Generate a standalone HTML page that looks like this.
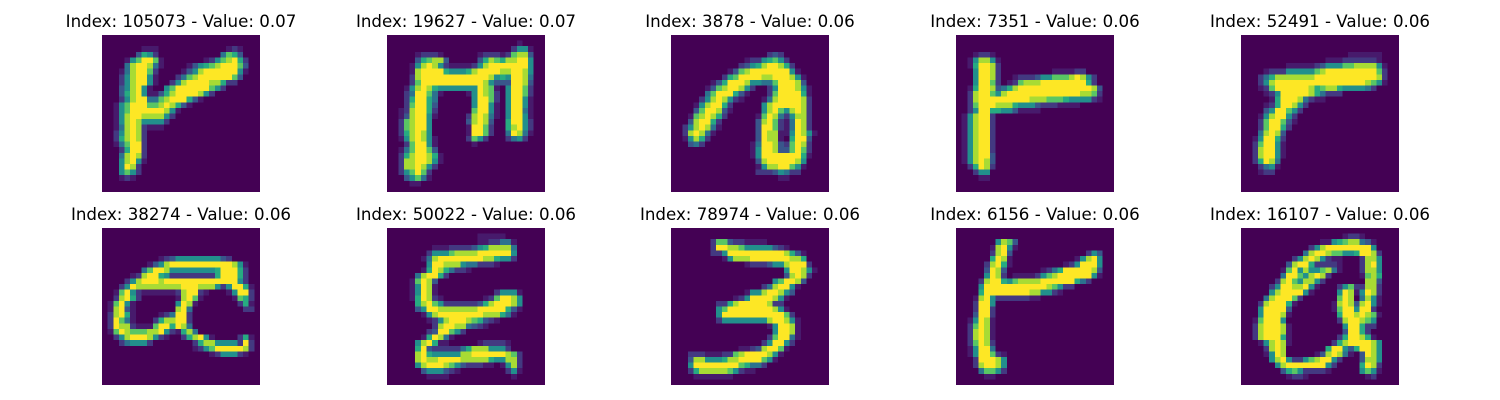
<!DOCTYPE html>
<html lang="en">
<head>
<meta charset="utf-8">
<title>Top activations</title>
<style>
html,body{margin:0;padding:0;background:#fff;width:1500px;height:400px;overflow:hidden}
svg{display:block}
text{font-family:"DejaVu Sans",sans-serif;font-size:16.67px;fill:#000;text-anchor:middle}
</style>
</head>
<body>
<svg id="figure" width="1500" height="400" viewBox="0 0 1500 400" xmlns="http://www.w3.org/2000/svg"></svg>
<script>
const titleIndexes = [105073, 19627, 3878, 7351, 52491, 38274, 50022, 78974, 6156, 16107];
const titleValues = [0.07, 0.07, 0.06, 0.06, 0.06, 0.06, 0.06, 0.06, 0.06, 0.06];

const image0 = [[],[],
[0,0,0,0,0,0,0,1,1,1,0,0,0,0,0,0,0,0,0,0,0,0,1,2,1],
[0,0,0,0,0,0,3,6,5,2,0,0,0,0,0,0,0,0,0,0,0,4,7,6,3],
[0,0,0,0,1,5,7,9,9,7,1,0,0,0,0,0,0,0,1,2,5,7,8,9,6,2],
[0,0,0,0,4,8,9,9,8,4,1,0,0,0,0,1,3,5,6,7,8,9,9,9,7,3],
[0,0,0,1,4,8,9,9,7,2,0,0,0,0,1,3,5,8,9,9,9,9,9,9,5,1],
[0,0,0,2,5,8,9,9,5,1,0,0,0,2,4,7,8,9,9,9,9,9,9,7,3],
[0,0,0,2,5,8,9,9,5,1,0,0,2,5,8,9,9,9,9,8,8,6,2,2],
[0,0,0,3,5,8,9,5,1,0,0,5,7,9,9,9,9,9,9,7,5,2],
[0,0,0,3,6,8,9,5,1,1,3,6,8,9,9,9,9,8,5,2],
[0,0,0,2,5,8,9,9,4,4,7,8,9,9,9,6,3,1],
[0,0,1,5,7,9,9,9,7,7,8,9,8,6,3,1],
[0,0,1,5,7,9,9,9,9,9,9,8,5,1],
[0,0,1,5,8,9,9,8,8,8,8,5,2],
[0,0,1,5,8,9,8,5,5,5,5,2],
[0,0,1,4,8,9,8,2,1,1,1],
[0,0,2,5,8,9,8,2],
[0,0,2,6,8,9,8,2],
[0,0,1,4,7,9,9,2],
[0,0,0,2,6,9,9,2],
[0,0,0,4,8,9,8,2],
[0,0,0,5,8,9,5,1],
[0,0,0,5,9,8,2],
[0,0,0,5,7,5,2],
[0,0,0,1,2,1],
[],[]];

const image1 = [[],[0,0,0,0,0,0,0,0,0,0,0,0,0,0,0,0,0,0,0,0,0,0,0,1],
[0,0,0,0,0,0,0,0,0,0,0,0,0,0,0,0,0,0,0,0,0,0,2,5,5,1],
[0,0,0,0,0,1,2,2,2,1,0,0,0,0,0,0,1,2,2,2,1,2,7,8,8,3],
[0,0,0,0,0,3,6,7,8,8,3,0,0,0,0,0,3,6,8,7,6,8,8,9,9,5],
[0,0,0,0,1,5,8,9,8,5,2,1,1,1,1,2,5,8,9,9,9,9,9,9,9,5],
[0,0,0,0,1,8,9,9,9,9,6,5,5,5,6,8,9,9,9,9,8,8,9,9,8,5],
[0,0,0,0,2,8,9,9,9,9,9,9,9,9,9,9,9,9,8,5,6,5,9,9,8,4],
[0,0,0,0,2,7,9,9,9,9,9,9,9,9,9,9,9,8,5,3,3,3,9,9,8,3],
[0,0,0,1,5,8,9,8,6,5,5,5,5,5,5,5,9,8,7,1,0,5,9,9,7,2],
[0,0,0,2,4,9,9,7,4,1,0,0,0,0,1,5,9,8,7,2,0,5,9,9,7,2],
[0,0,0,2,6,9,9,6,4,0,0,0,0,0,0,5,9,9,7,2,0,5,9,9,5,1],
[0,0,0,2,7,9,9,6,3,0,0,0,0,0,0,5,9,9,5,1,0,5,9,9,5,1],
[0,0,1,2,8,9,9,6,2,0,0,0,0,0,0,7,9,9,5,1,0,5,9,9,4,1],
[0,0,1,3,8,9,9,5,1,0,0,0,0,0,2,8,9,8,4,1,0,5,9,9,5,1],
[0,0,2,7,8,9,9,5,0,0,0,0,0,0,3,8,9,8,3,0,0,6,9,9,5,2],
[0,0,2,7,8,9,9,5,0,0,0,0,0,0,1,9,9,7,2,0,0,6,8,9,5,2],
[0,0,2,6,8,9,8,5,0,0,0,0,0,0,1,9,9,7,2,0,0,4,9,8,4,1],
[0,0,1,5,8,9,8,5,1,0,0,0,0,0,2,7,5,2,0,0,0,2,4,5,2],
[0,0,0,2,7,9,9,5,1,0,0,0,0,0,0,1],
[0,0,1,4,7,9,9,7,3],
[0,0,2,6,8,9,9,8,6,1],
[0,0,2,8,8,9,9,8,5,1],
[0,0,2,8,8,9,8,5,2],
[0,0,2,5,7,9,7,2],
[0,0,0,3,5,7,4,1],
[0,0,0,0,1,1],[]];

const image2 = [[],[],[],
[0,0,0,0,0,0,0,0,0,0,0,0,0,0,0,0,0,2,3,2],
[0,0,0,0,0,0,0,0,0,0,0,0,0,1,2,2,5,6,7,5,2],
[0,0,0,0,0,0,0,0,0,0,0,0,2,3,5,6,8,9,9,8,6,2],
[0,0,0,0,0,0,0,0,0,0,1,3,7,8,9,9,9,9,9,9,9,5,1],
[0,0,0,0,0,0,0,0,0,2,6,7,9,9,9,9,8,8,9,9,9,8,5,1],
[0,0,0,0,0,0,0,1,3,6,9,9,9,8,5,5,4,4,7,9,9,9,8,3],
[0,0,0,0,0,0,1,3,7,8,9,9,8,5,2,0,0,2,5,9,9,9,8,5,1],
[0,0,0,0,0,0,4,7,9,9,9,6,3,1,0,0,0,2,7,9,9,9,9,6,1],
[0,0,0,0,0,2,5,8,9,8,5,2,1,0,0,0,1,4,8,9,9,9,9,8,2],
[0,0,0,0,1,5,8,9,9,6,2,0,0,0,0,0,5,8,9,9,9,9,9,8,2],
[0,0,0,0,3,7,9,9,8,3,1,0,0,0,0,0,5,8,9,7,5,8,9,8,2],
[0,0,0,1,7,8,9,8,6,2,0,0,0,0,0,1,7,9,8,4,2,5,8,8,2],
[0,0,0,3,8,9,9,6,2,0,0,0,0,0,0,3,8,9,7,2,1,4,9,8,2],
[0,0,2,5,8,9,8,4,1,0,0,0,0,0,0,3,9,9,7,2,1,4,9,8,2],
[0,0,2,8,9,8,4,1,0,0,0,0,0,0,0,3,9,8,8,1,1,5,9,8,5,1],
[0,0,1,5,8,6,2,0,0,0,0,0,0,0,0,3,9,8,8,1,0,6,9,9,3],
[0,0,0,3,4,2,0,0,0,0,0,0,0,0,1,4,9,9,8,3,2,7,9,8,2],
[0,0,0,0,0,0,0,0,0,0,0,0,0,0,1,5,9,9,8,3,3,7,9,7,2],
[0,0,0,0,0,0,0,0,0,0,0,0,0,0,1,5,9,9,9,9,9,9,9,6,1],
[0,0,0,0,0,0,0,0,0,0,0,0,0,0,0,3,8,9,9,9,9,9,8,5],
[0,0,0,0,0,0,0,0,0,0,0,0,0,0,0,1,5,8,8,9,9,7,5,1],
[0,0,0,0,0,0,0,0,0,0,0,0,0,0,0,2,2,2,3,5,4,2,2],
[0,0,0,0,0,0,0,0,0,0,0,0,0,0,0,0,0,0,0,1,1],[],[]];

const image3 = [[],[],[],
[0,0,0,1,2,2,1],
[0,0,1,5,8,8,5,1],
[0,0,1,6,9,9,8,2],
[0,0,0,5,9,9,8,2,0,0,0,0,0,0,0,0,0,1,1,1,1,2,2],
[0,0,0,5,9,9,8,2,0,0,1,2,2,2,3,5,5,7,7,7,8,9,8,5,2],
[0,0,0,5,9,9,7,2,0,1,2,7,8,8,8,9,9,9,9,9,9,9,9,6,2],
[0,0,1,6,9,9,8,3,4,6,8,9,9,9,9,9,9,9,9,9,9,9,9,9,8,3],
[0,0,2,8,9,9,7,5,8,9,9,9,9,9,9,9,9,9,9,9,9,9,8,8,7,2],
[0,0,2,8,9,9,9,9,9,9,9,9,9,8,8,8,7,7,7,6,5,5,5,5,2,1],
[0,0,2,7,9,9,9,8,8,8,6,5,5,5,3,2,2,2,1,1,1,1],
[0,0,2,5,9,9,6,6,5,5,3,1,1,1,1],
[0,1,5,8,9,9,2],
[0,1,5,8,9,9,2],
[0,1,5,8,9,9,2],
[0,1,5,8,9,9,2],
[0,1,5,8,9,9,2],
[0,1,5,8,9,9,2],
[0,1,5,8,9,9,2],
[0,1,5,8,9,9,3],
[0,1,5,8,9,8,3],
[0,0,2,6,9,8,2],
[0,0,0,2,5,5],
[0,0,0,0,1,1],[],[]];

const image4 = [[],[],[],
[0,0,0,0,0,0,0,0,0,0,0,0,0,0,0,0,0,0,0,1,1,1,1,1,1],
[0,0,0,0,0,0,0,0,0,0,0,0,0,0,0,1,1,1,2,2,2,2,2,2,1],
[0,0,0,0,0,0,0,0,1,1,1,1,1,2,3,5,5,5,7,7,8,8,8,8,5,1],
[0,0,0,0,1,2,2,2,5,5,5,5,5,7,8,9,9,9,9,9,9,9,9,9,7,2],
[0,0,0,2,4,6,8,8,8,8,8,8,8,9,9,9,9,9,9,9,9,9,9,9,8,2],
[0,0,0,2,5,8,9,9,9,9,9,9,9,9,9,9,9,9,9,9,9,9,8,7,5,1],
[0,0,0,1,2,7,9,9,9,9,9,9,8,6,7,8,8,6,5,5,5,5,4,2],
[0,0,0,0,1,2,5,9,9,9,9,9,8,6,4,2,2,2],
[0,0,0,0,0,1,6,9,9,9,8,4,2,1,1],
[0,0,0,0,1,2,6,9,9,8,5,2],
[0,0,0,0,3,5,9,9,7,5,2],
[0,0,0,1,5,8,9,9,5,2],
[0,0,0,2,7,9,9,7,3,1],
[0,0,0,2,7,9,9,6,2],
[0,0,0,4,8,9,8,3],
[0,0,1,5,9,9,6,2],
[0,0,2,7,9,9,5,1],
[0,0,2,8,9,9,5,1],
[0,0,2,8,9,9,5,1],
[0,0,2,6,9,8,4],
[0,0,0,2,4,5,1],
[0,0,0,1,2,2],[],[],[]];

const image5 = [[],[],[],[],[],
[0,0,0,0,0,0,0,0,0,0,1,2,3,5,5,5,5,5,5,5,5,3,2],
[0,0,0,0,0,0,0,0,1,3,5,8,9,9,9,9,9,9,9,9,9,9,9,8,5,1],
[0,0,0,0,0,0,0,4,7,9,9,8,5,5,5,5,5,5,5,5,6,9,9,9,6,2],
[0,0,0,0,0,1,2,8,9,9,6,5,2,2,2,2,2,2,2,2,6,9,9,9,6,2],
[0,0,0,0,2,5,8,9,9,9,8,9,9,9,9,9,9,9,9,9,9,9,9,9,5,2],
[0,0,0,2,5,9,8,8,8,8,8,8,8,8,9,9,9,8,8,8,5,2,5,9,9,6,1],
[0,0,1,7,9,5,2,1,1,1,1,1,1,2,8,9,9,2,1,0,0,0,1,5,9,9,2],
[0,0,2,8,9,6,2,0,0,0,0,0,0,1,8,9,7,1,0,0,0,0,0,1,7,6,2],
[0,1,7,9,5,1,0,0,0,0,0,0,0,5,9,8,1,0,0,0,0,0,0,0,2,6,1],
[0,1,8,9,3,1,0,0,0,0,0,0,0,8,9,4,0,0,0,0,0,0,0,0,0,2,2],
[0,2,8,9,6,1,0,0,0,0,1,2,4,9,9,2],
[0,2,9,7,4,1,0,0,0,2,6,8,8,9,9,2],
[0,2,9,8,8,2,1,1,1,7,9,9,6,9,8,4],
[0,1,7,9,8,7,7,7,8,8,9,5,2,1,6,8,4],
[0,0,2,5,8,9,9,9,8,5,2,1,0,0,2,6,8,9,5,1,0,0,0,0,2,6,1],
[0,0,0,2,4,5,5,5,2,0,0,0,0,0,0,0,2,6,8,8,5,5,5,5,2,9,2],
[0,0,0,0,0,0,0,0,0,0,0,0,0,0,0,0,1,2,5,7,9,9,9,9,9,8,2],
[0,0,0,0,0,0,0,0,0,0,0,0,0,0,0,0,0,0,0,1,2,5,5,5,2,1],
[],[],[],[],[]];

const image6 = [[],
[0,0,0,0,0,0,0,0,0,0,0,0,0,0,0,0,1,1,1,1,1],
[0,0,0,0,0,0,0,0,0,0,0,0,0,0,0,0,1,1,2,2,4,4,1],
[0,0,0,0,0,0,0,0,1,1,1,2,2,2,2,3,5,6,8,8,8,8,4],
[0,0,0,0,0,0,0,2,5,5,5,7,8,8,8,8,9,9,9,9,9,9,5],
[0,0,0,0,0,0,1,4,8,9,9,9,9,9,9,9,9,8,8,6,5,5,2],
[0,0,0,0,0,0,0,5,9,9,8,8,8,5,4,4,2,2,2,1],
[0,0,0,0,0,0,1,6,9,8,6,4,2,2,1],
[0,0,0,0,0,4,8,9,9,6,2],
[0,0,0,0,1,7,9,8,3],
[0,0,0,0,1,5,9,8,1],
[0,0,0,0,1,5,9,8,1,0,0,0,0,0,0,0,0,0,0,2,5,5,5,1],
[0,0,0,0,1,6,9,8,2,1,0,0,0,0,0,0,0,1,2,7,9,9,8,5],
[0,0,0,0,0,6,8,9,7,5,2,2,2,2,2,2,3,6,8,9,9,9,8,5],
[0,0,0,0,0,3,5,9,9,8,8,8,8,8,8,8,9,9,9,9,9,6,3,1],
[0,0,0,0,0,0,1,5,8,9,9,9,9,9,9,9,9,8,8,8,6,4,1],
[0,0,0,0,0,0,0,1,2,5,8,9,9,9,8,7,6,3,2,1],
[0,0,0,0,0,0,0,0,2,8,9,9,8,8,4,3,2,1],
[0,0,0,0,0,0,0,2,3,9,9,7,5,2],
[0,0,0,0,0,0,1,6,9,8,4,1],
[0,0,0,0,0,5,8,9,6,1,1,0,0,0,0,0,1,2,2,2,2,1],
[0,0,0,0,0,6,9,3,2,2,2,2,2,4,6,8,8,8,5,5,5,2],
[0,0,0,0,0,8,9,6,5,5,5,5,5,8,8,9,9,9,9,9,9,8,7,2],
[0,0,0,0,0,8,9,8,8,9,9,9,9,8,8,8,8,8,6,5,5,8,8,2],
[0,0,0,0,0,5,8,9,9,9,8,7,5,3,2,2,2,1,1,0,1,5,8,2],
[0,0,0,0,0,0,3,5,5,5,3,2,1,0,0,0,0,0,0,0,0,2,5,1],
[0,0,0,0,0,0,0,1,1,1,1,0,0,0,0,0,0,0,0,0,0,0,1],[]];

const image7 = [[],[],
[0,0,0,0,0,0,0,2,7,7,3,2,2,1,1,1,1],
[0,0,0,0,0,0,0,2,9,9,8,8,7,5,5,5,5,5,3,2,1],
[0,0,0,0,0,0,0,2,2,5,9,9,9,9,9,9,9,9,9,9,8,6,3,1],
[0,0,0,0,0,0,0,0,0,1,5,8,8,8,9,9,9,9,9,9,9,8,8,6],
[0,0,0,0,0,0,0,0,0,0,0,0,0,1,2,2,2,3,5,5,8,9,9,9,2],
[0,0,0,0,0,0,0,0,0,0,0,0,0,0,0,0,0,0,0,0,5,9,9,8,5,1],
[0,0,0,0,0,0,0,0,0,0,0,0,0,0,0,0,0,0,0,0,3,8,9,8,2],
[0,0,0,0,0,0,0,0,0,0,0,0,0,0,0,0,0,0,5,7,9,9,8,3],
[0,0,0,0,0,0,0,0,0,0,0,0,0,0,0,0,2,4,8,9,9,5,1],
[0,0,0,0,0,0,0,0,0,0,0,0,0,1,5,5,8,9,9,8,5,3],
[0,0,0,0,0,0,0,0,0,0,0,1,2,5,9,9,9,9,8,5,1],
[0,0,0,0,0,0,0,0,2,2,6,8,9,9,9,9,9,8,2,2],
[0,0,0,0,0,0,0,0,5,7,9,9,9,9,9,9,9,9,8,5,1],
[0,0,0,0,0,0,0,0,5,9,9,9,9,9,9,9,9,9,9,9,7,2],
[0,0,0,0,0,0,0,0,2,5,5,5,5,5,5,5,5,8,9,9,8,5,1],
[0,0,0,0,0,0,0,0,0,0,0,0,0,0,0,0,0,1,5,9,9,8,1],
[0,0,0,0,0,0,0,0,0,0,0,0,0,0,0,0,0,0,5,9,9,8,1],
[0,0,0,0,0,0,0,0,0,0,0,0,0,0,0,0,0,2,7,9,9,4,1],
[0,0,0,0,0,0,0,0,0,0,0,0,0,0,0,0,2,5,9,9,5,2],
[0,0,0,0,0,0,0,0,0,0,0,0,1,1,2,3,8,9,9,7,1],
[0,0,0,2,2,2,1,1,1,2,2,7,8,9,9,9,9,8,5,1],
[0,0,0,3,8,8,5,5,5,6,8,8,9,9,9,9,7,5,1],
[0,0,0,5,9,9,9,9,9,9,9,9,7,6,4,4,2],
[0,0,0,2,6,8,8,8,8,8,7,5,2,1,1],
[0,0,0,0,1,1,1,1,1,1,1],[]];

const image8 = [[],[],
[0,0,0,0,0,0,0,5,8,7,3],
[0,0,0,0,0,0,1,8,9,5,1],
[0,0,0,0,0,0,2,8,9,3,0,0,0,0,0,0,0,0,0,0,0,0,0,2,5,3],
[0,0,0,0,0,0,6,9,8,1,0,0,0,0,0,0,0,0,0,0,0,1,5,8,9,5],
[0,0,0,0,0,2,8,9,6,1,0,0,0,0,0,0,0,0,0,1,2,5,9,9,9,5],
[0,0,0,0,0,3,9,8,3,0,0,0,0,0,0,1,2,4,6,9,9,9,9,9,8,3],
[0,0,0,0,0,5,9,8,2,0,1,1,1,1,2,5,7,8,9,9,9,9,9,9,5,1],
[0,0,0,0,2,8,9,9,6,5,7,8,8,8,8,9,9,9,9,9,9,6,4,2],
[0,0,0,0,5,9,9,9,9,9,9,9,9,9,9,9,8,7,5,2,2],
[0,0,0,0,6,9,9,9,9,9,9,9,9,8,8,5,5,2,1],
[0,0,0,1,8,9,5,2,2,2,2,2,2,1,1],
[0,0,0,2,9,9,5],
[0,0,0,2,9,9,2],
[0,0,0,3,9,9,2],
[0,0,1,5,9,8,1],
[0,0,2,7,9,8,1],
[0,0,2,8,9,8,1],
[0,0,2,8,9,8,1],
[0,0,2,7,9,8,2],
[0,0,1,5,9,9,4],
[0,0,1,5,9,9,7,2,1],
[0,0,0,2,9,9,9,8,5],
[0,0,0,2,8,9,9,8,5],
[0,0,0,0,4,7,7,5,2],
[0,0,0,0,0,1,1],[]];

const image9 = [[],
[0,0,0,0,0,0,0,0,0,0,0,0,0,0,0,0,0,0,1,2,2,1],
[0,0,0,0,0,0,0,0,0,0,0,0,0,0,1,1,5,6,7,8,8,4,3,1],
[0,0,0,0,0,0,0,0,0,0,0,0,2,5,8,9,9,9,9,9,9,9,9,5],
[0,0,0,0,0,0,0,0,0,0,0,4,8,9,9,8,7,7,5,5,6,9,9,8,2],
[0,0,0,0,0,0,0,0,0,2,5,8,9,8,5,2,1,1,0,0,0,2,8,8,5],
[0,0,0,0,0,0,0,0,3,8,9,9,6,2,2,2,2,1,0,0,0,2,8,9,5],
[0,0,0,0,0,0,0,1,7,9,5,8,5,5,7,8,4,1,0,0,0,2,8,8,5],
[0,0,0,0,0,0,0,4,9,9,7,5,8,9,8,2,0,0,0,0,0,1,7,8,6],
[0,0,0,0,0,0,2,8,9,7,5,8,8,5,2,0,0,0,0,0,0,0,8,8,3],
[0,0,0,0,0,2,5,9,9,8,8,9,5,1,0,0,0,2,5,7,2,2,8,8,2],
[0,0,0,0,0,5,8,9,9,9,9,5,1,0,0,0,0,5,9,8,1,5,9,8,2],
[0,0,0,0,4,8,9,9,9,7,2,0,0,0,0,0,0,7,9,8,0,4,8,5,1],
[0,0,0,2,8,9,9,9,6,1,0,0,0,0,0,0,1,8,9,8,3,8,9,5,1],
[0,0,0,5,9,9,9,9,3,0,0,0,0,0,0,0,1,7,9,9,5,9,9,2],
[0,0,0,5,9,9,9,8,1,0,0,0,0,0,0,0,0,6,9,9,8,9,8,7,1],
[0,0,1,7,9,9,9,5,0,0,0,0,0,0,0,0,0,2,8,9,9,8,7,5],
[0,0,2,8,9,9,9,8,1,0,0,0,0,0,0,0,0,0,5,9,9,6,2,2],
[0,0,2,8,9,9,9,8,1,0,0,0,0,0,0,0,0,0,3,9,9,6,2],
[0,0,2,8,9,9,9,6,1,0,0,0,0,0,0,0,0,2,6,9,9,8,6,1],
[0,0,0,1,5,8,9,8,1,0,0,0,0,0,0,0,2,6,8,9,9,9,9,8,5],
[0,0,0,0,2,8,9,8,0,0,0,0,0,0,0,6,9,9,5,3,6,9,9,8,5],
[0,0,0,0,1,5,9,8,0,0,0,0,0,1,3,8,9,8,4,1,0,3,9,8,5],
[0,0,0,0,0,5,8,9,5,2,2,5,7,8,9,9,5,2,0,0,0,3,8,8,5],
[0,0,0,0,0,0,5,8,9,9,9,9,9,9,9,5,2,0,0,0,0,6,9,8,2],
[0,0,0,0,0,0,0,3,6,7,5,2,2,2,2,1,0,0,0,0,0,5,7,5,1],
[0,0,0,0,0,0,0,0,1,2,2,1,0,0,0,0,0,0,0,0,0,0,1,2],[]];

const images = [image0, image1, image2, image3, image4, image5, image6, image7, image8, image9];
const levelMax = 9;
const gridSize = 28;

const svgNS = 'http://www.w3.org/2000/svg';
const figure = document.getElementById('figure');
const viridis = ['#440154','#482475','#414487','#355f8d','#2a788e','#21918c','#22a884','#44bf70','#7ad151','#bddf26','#fde725'];

function hexToRgb(h){ return [1,3,5].map(function(i){ return parseInt(h.substr(i,2),16); }); }
function colorScale(level){
  const v = Math.pow(Math.max(0, Math.min(levelMax, level)) / levelMax, 1.2) * (viridis.length - 1);
  const i = Math.min(viridis.length - 2, Math.floor(v));
  const t = v - i;
  const a = hexToRgb(viridis[i]);
  const b = hexToRgb(viridis[i + 1]);
  return 'rgb(' + a.map(function(x, k){ return Math.round(x + (b[k] - x) * t); }).join(',') + ')';
}
const panelWidth = 158;
const panelHeight = 157;
function panelLeft(col){ return Math.round(102.2 + col * 284.6); }
function panelTop(row){ return 35 + row * 193; }

images.forEach(function(image, p){
  const col = p % 5;
  const row = Math.floor(p / 5);
  const left = panelLeft(col);
  const top = panelTop(row);
  const xScale = function(c){ return left + c * panelWidth / gridSize; };
  const yScale = function(r){ return top + r * panelHeight / gridSize; };

  const group = document.createElementNS(svgNS, 'g');
  
  
  group.setAttribute('shape-rendering', 'crispEdges');

  const title = document.createElementNS(svgNS, 'text');
  
  
  title.setAttribute('x', left + panelWidth / 2);
  title.setAttribute('y', top - 8);
  title.textContent = 'Index: ' + titleIndexes[p] + ' - Value: ' + titleValues[p].toFixed(2);
  group.appendChild(title);

  for (let r = 0; r < gridSize; r++) {
    const cells = image[r] || [];
    for (let c = 0; c < gridSize; c++) {
      const cell = document.createElementNS(svgNS, 'rect');
      
      
      cell.setAttribute('x', xScale(c));
      cell.setAttribute('y', yScale(r));
      cell.setAttribute('width', xScale(c + 1) - xScale(c) + 0.2);
      cell.setAttribute('height', yScale(r + 1) - yScale(r) + 0.2);
      cell.setAttribute('fill', colorScale(cells[c] || 0));
      group.appendChild(cell);
    }
  }
  figure.appendChild(group);
});
</script>
</body>
</html>
